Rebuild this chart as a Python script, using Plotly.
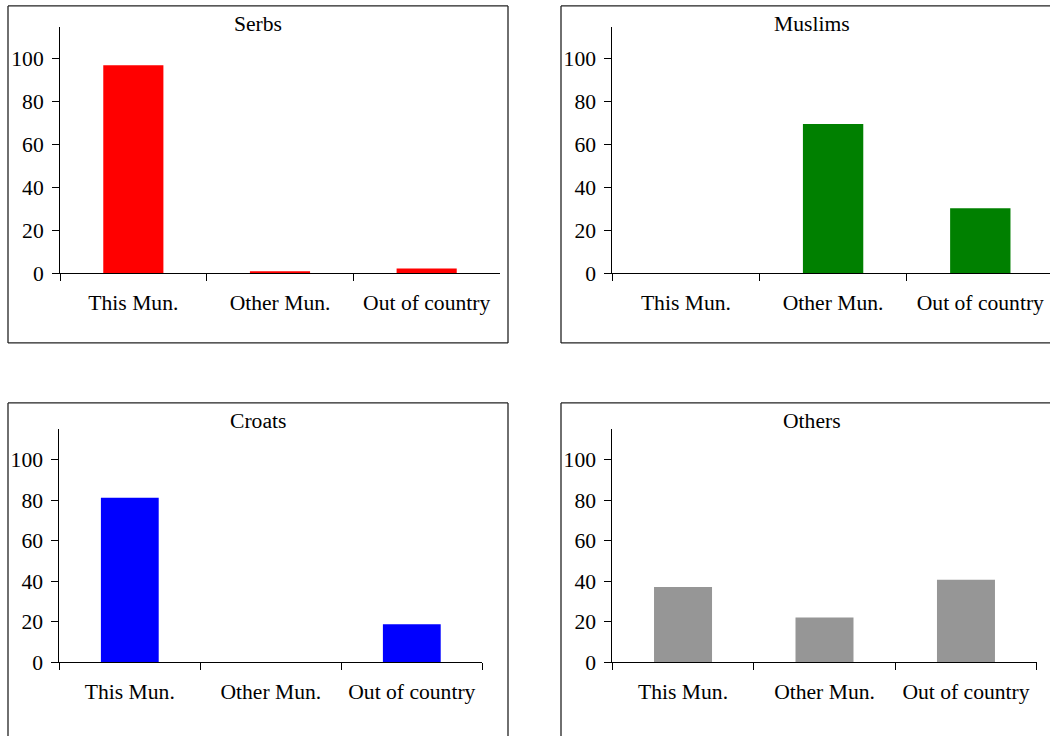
import plotly.graph_objects as go

categories = ["This Mun.", "Other Mun.", "Out of country"]
serbs = [97.0, 1.0, 2.3]
muslims = [0, 69.6, 30.4]
croats = [81.2, 0, 18.8]
others = [37.2, 22.1, 40.7]
titles = ["Serbs", "Muslims", "Croats", "Others"]
colors = ["#FF0000", "#008000", "#0000FF", "#969696"]
yticks = [0, 20, 40, 60, 80, 100]

W, H = 1050, 749
FONT = "Liberation Serif, Times New Roman, serif"
FS = 21.6

def px_x(v):
    return min(v, W) / W

def px_y(v):
    return 1 - min(v, H) / H

# plot areas in pixels: (left, right, top, bottom)
areas = [
    (60.0, 500.0, 27.0, 278.3),
    (612.3, 1050.0, 27.0, 278.3),
    (59.3, 482.3, 436.8, 674.0),
    (612.3, 1036.7, 436.8, 674.0),
]
# x ranges (top-right panel is cut off by the image edge)
xranges = [
    [-0.5, 2.5],
    [-0.5, 2.5 - 3.9 / 147.2],
    [-0.5, 2.5],
    [-0.5, 2.5],
]
# panel frames (left, right, top, bottom); parts outside the page are cut
boxes = [
    (8, 508, 6, 349),
    (561, 1062, 6, 349),
    (8, 508, 410, 753),
    (561, 1062, 410, 753),
]
title_pos = [(258, 24), (811.5, 24), (258, 428), (811.5, 428)]

series = [serbs, muslims, croats, others]

fig = go.Figure()
layout = dict(
    width=W, height=H,
    margin=dict(l=0, r=0, t=0, b=0),
    paper_bgcolor="white", plot_bgcolor="white",
    showlegend=False,
    bargap=0.59,
    font=dict(family=FONT, size=FS, color="black"),
)
shapes = []
annotations = []
frame_line = dict(color="#222222", width=1.3)
for i in range(4):
    n = "" if i == 0 else str(i + 1)
    l, r, t, b = areas[i]
    fig.add_trace(go.Bar(
        x=categories, y=series[i], marker=dict(color=colors[i], line=dict(width=0)),
        xaxis="x" + n, yaxis="y" + n, hoverinfo="x+y",
    ))
    layout["xaxis" + n] = dict(
        domain=[px_x(l), px_x(r)], anchor="y" + n,
        type="category", range=xranges[i],
        showline=True, linecolor="black", linewidth=1,
        ticks="outside", ticklen=7, tickcolor="black", tickwidth=1,
        tickson="boundaries", showgrid=False, zeroline=False,
        tickfont=dict(family=FONT, size=FS, color="black"),
        ticklabelstandoff=10, fixedrange=True,
    )
    layout["yaxis" + n] = dict(
        domain=[px_y(b), px_y(t)], anchor="x" + n,
        range=[0, 115], tickvals=yticks,
        showline=True, linecolor="black", linewidth=1,
        ticks="outside", ticklen=7, tickcolor="black", tickwidth=1,
        showgrid=False, zeroline=False,
        tickfont=dict(family=FONT, size=FS, color="black"),
        ticklabelstandoff=4, fixedrange=True,
    )
    bx0, bx1, by0, by1 = boxes[i]
    edges = [
        (bx0, by0, bx1, by0),  # top
        (bx0, by0, bx0, by1),  # left
    ]
    if bx1 <= W:
        edges.append((bx1, by0, bx1, by1))  # right
    if by1 <= H:
        edges.append((bx0, by1, bx1, by1))  # bottom
    for (ax, ay, bx, byy) in edges:
        shapes.append(dict(
            type="line", xref="paper", yref="paper",
            x0=px_x(ax), y0=px_y(ay), x1=px_x(bx), y1=px_y(byy),
            line=frame_line, layer="above",
        ))
    tx, ty = title_pos[i]
    annotations.append(dict(
        text=titles[i], xref="paper", yref="paper",
        x=px_x(tx), y=px_y(ty), xanchor="center", yanchor="middle",
        showarrow=False, font=dict(family=FONT, size=FS, color="black"),
    ))

layout["shapes"] = shapes
layout["annotations"] = annotations
fig.update_layout(**layout)
fig.write_html(
    "out.html",
    config={"displayModeBar": False},
    post_script="document.body.style.margin='0';document.body.style.overflow='hidden';",
)
